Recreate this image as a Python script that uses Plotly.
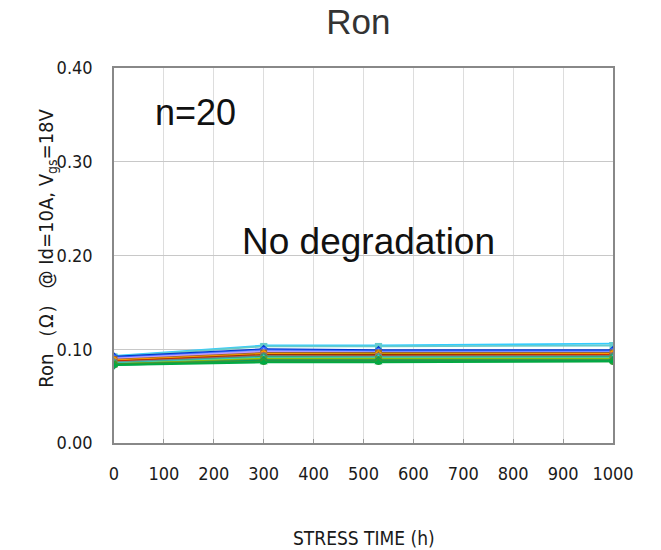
import plotly.graph_objects as go

# Stress time checkpoints (h)
stress_hours = [0, 300, 530, 1000]

# On-resistance (ohm) of each sample at each checkpoint
ron_samples = [
    [0.093, 0.104, 0.104, 0.106],
    [0.092, 0.103, 0.103, 0.104],
    [0.092, 0.100, 0.099, 0.099],
    [0.091, 0.099, 0.098, 0.098],
    [0.090, 0.098, 0.097, 0.097],
    [0.090, 0.097, 0.096, 0.096],
    [0.089, 0.096, 0.096, 0.096],
    [0.088, 0.095, 0.095, 0.095],
    [0.088, 0.095, 0.094, 0.095],
    [0.087, 0.094, 0.094, 0.094],
    [0.087, 0.093, 0.093, 0.094],
    [0.086, 0.093, 0.092, 0.093],
    [0.086, 0.092, 0.092, 0.092],
    [0.085, 0.092, 0.091, 0.092],
    [0.085, 0.091, 0.091, 0.091],
    [0.084, 0.090, 0.090, 0.090],
    [0.084, 0.089, 0.089, 0.089],
    [0.083, 0.088, 0.088, 0.088],
    [0.084, 0.087, 0.087, 0.087],
    [0.083, 0.086, 0.086, 0.087],
]

series_colors = [
    "#33CCFF", "#66CCCC", "#0033CC", "#3366FF", "#9999FF",
    "#CC99FF", "#996633", "#CC9900", "#FF9900", "#993300",
    "#CC3300", "#996666", "#669999", "#339966", "#33CCCC",
    "#99CC00", "#669933", "#009966", "#339933", "#00AA44",
]
series_symbols = ["triangle-down", "square", "diamond", "circle", "triangle-up"]

x_ticks = list(range(0, 1001, 100))
y_ticks = [0.0, 0.1, 0.2, 0.3, 0.4]

fig = go.Figure()
for i, vals in enumerate(ron_samples):
    fig.add_trace(go.Scatter(
        x=stress_hours, y=vals, mode="lines+markers",
        line=dict(color=series_colors[i], width=1.8),
        marker=dict(color=series_colors[i], size=7,
                    symbol=series_symbols[i % len(series_symbols)]),
        showlegend=False,
    ))

narrow = "DejaVu Sans Condensed, Liberation Sans Narrow, sans-serif"
tick_font = dict(family=narrow, size=18, color="#1a1a1a")

fig.update_layout(
    width=661, height=550,
    margin=dict(l=114, r=48, t=68, b=107),
    paper_bgcolor="white", plot_bgcolor="white",
    title=dict(text="Ron", x=0.542, xanchor="center", y=0.96, yanchor="middle",
               font=dict(family="Liberation Sans, Arial, sans-serif",
                         size=35, color="#333")),
    xaxis=dict(range=[0, 1000], tickvals=x_ticks,
               ticktext=[str(v) for v in x_ticks],
               showgrid=True, gridcolor="#dddddd", gridwidth=1,
               showline=True, linecolor="#888", linewidth=1.5, mirror=True,
               ticks="inside", ticklen=4, tickcolor="#999",
               tickfont=tick_font, ticklabelstandoff=14, zeroline=False),
    yaxis=dict(range=[0, 0.4], tickvals=y_ticks,
               ticktext=[f"{v:.2f}" for v in y_ticks],
               showgrid=True, gridcolor="#c8c8c8", gridwidth=1,
               showline=True, linecolor="#888", linewidth=1.5, mirror=True,
               ticks="", tickfont=tick_font, ticklabelstandoff=16,
               zeroline=False),
)

fig.add_annotation(
    text="Ron （Ω） @ Id=10A, V<sub>gs</sub>=18V", textangle=-90,
    xref="paper", yref="paper", x=-0.135, y=0.52,
    xanchor="center", yanchor="middle", showarrow=False,
    font=dict(family=narrow, size=20, color="#1a1a1a"),
)
fig.add_annotation(
    text="STRESS TIME (h)", xref="paper", yref="paper",
    x=0.5, y=-0.253, xanchor="center", yanchor="middle", showarrow=False,
    font=dict(family=narrow, size=19, color="#1a1a1a"),
)
fig.add_annotation(
    text="n=20", xref="paper", yref="paper", x=0.163, y=0.881,
    xanchor="center", yanchor="middle", showarrow=False,
    font=dict(family="Liberation Sans, Arial, sans-serif", size=36, color="#111"),
)
fig.add_annotation(
    text="No degradation", xref="paper", yref="paper", x=0.51, y=0.537,
    xanchor="center", yanchor="middle", showarrow=False,
    font=dict(family="Liberation Sans, Arial, sans-serif", size=37, color="#111"),
)

fig.write_html("out.html")
